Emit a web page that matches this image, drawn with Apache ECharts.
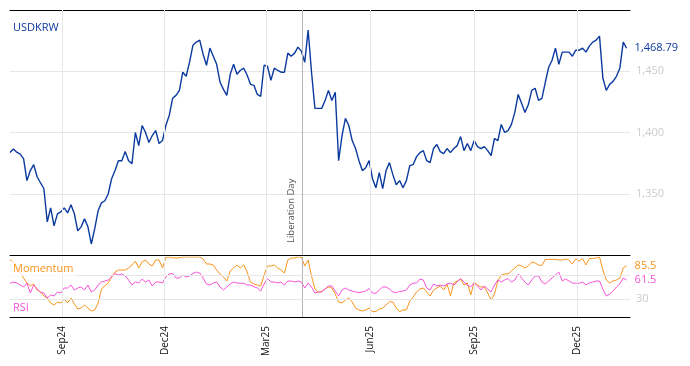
<!DOCTYPE html>
<html><head><meta charset="utf-8">
<script src="https://cdn.jsdelivr.net/npm/echarts@6/dist/echarts.min.js"></script>
<style>html,body{margin:0;padding:0;background:#fff}#c{width:690px;height:366px}</style>
</head><body><div id="c"></div>
<script>
// ---- data ----
const startDate = '2024-07-17';
const stepDays = 3;
const axisMin = '2024-07-17';
const axisMax = '2026-01-17';
const tickDates = ['2024-09-01','2024-12-01','2025-03-01','2025-06-01','2025-09-01','2025-12-01'];
const tickLabels = ['Sep24','Dec24','Mar25','Jun25','Sep25','Dec25'];
const eventDate = '2025-04-02';
const eventLabel = 'Liberation Day';
const seriesNames = ['USDKRW','Momentum','RSI'];
const lastLabels = ['1,468.79','85.5','61.5'];
const rsiLevels = [30, 70];

const usdkrw = [1383.6,1386.5,1383.9,1382.4,1378.7,1360.7,1368.9,1373.8,1363.9,1359,
1354.1,1327,1338.5,1323.8,1333.6,1335.2,1338.5,1334.4,1341,1333.6,
1319.7,1323,1329.5,1323,1309,1321.3,1336.1,1342.6,1344.3,1350,
1362.3,1368.9,1377,1377,1384.4,1377,1374.6,1400,1389.3,1405.7,
1400,1391.8,1397.5,1401.6,1391,1393.4,1405.7,1413.9,1427.9,1430.3,
1434.4,1449.2,1445.9,1457.4,1471.3,1473.8,1475.4,1463.9,1454.9,1468.9,
1462.3,1455.7,1441,1435.2,1430.3,1447.5,1455.7,1447.5,1450.8,1452.5,
1446.7,1439.3,1438.5,1431.1,1429.5,1454.9,1454.1,1442.6,1452.5,1450.8,
1449.2,1449.2,1464.8,1462.3,1464.8,1469.7,1466.4,1457.4,1483.6,1449.2,
1419.7,1419.7,1419.7,1426.2,1434.4,1426.2,1432.8,1377,1397.5,1411.5,
1405.7,1393.4,1386.9,1377,1368.9,1371.3,1377,1362.3,1354.9,1367.2,
1354.1,1368.9,1375.4,1365.6,1357.4,1360.7,1354.9,1360.7,1373,1373.8,
1380.3,1383.6,1385.2,1377,1375.4,1386.9,1390.2,1384.4,1382.8,1386.9,
1383.6,1386.9,1389.3,1396.7,1385.2,1391,1385.2,1393.4,1388.5,1386.9,
1388.5,1385.2,1381.1,1395.1,1393.4,1406.6,1400,1401.6,1406.6,1416.4,
1431.1,1423.8,1416.4,1422.9,1434.4,1436.1,1426.2,1427.9,1441,1453.3,
1459,1468.9,1455.7,1465.6,1465.6,1465.6,1462.3,1467.2,1467.2,1468.9,
1465.6,1470.5,1473.8,1475.4,1478.7,1444.3,1434.4,1439.3,1441.8,1445.9,
1452.5,1473.8,1468.79];

const momentum = [95,91.7,85,75,65,56.7,52,55,45,41.7,
35,31.7,23.3,20,25,23.3,30,23.3,31.7,21.7,
13.3,15,20,15,10,11.7,23.3,46.7,51.7,56.7,
66.7,75,78.3,78.3,78.3,81.7,86.7,93.3,81.7,91.7,
95,88.3,85,95,95,81.7,99,100,99,98,
99,100,100,100,100,100,100,96.7,88.3,88.3,
86.7,78.3,71.7,66.7,60,76.7,81.7,86.7,81.7,86.7,
75,58.3,55,53.3,51.7,70,85,85,86.7,81.7,
78.3,73.3,95,98.3,98.3,100,100,85,95,68.3,
46.7,41.7,41.7,46.7,50,48.3,38.3,25,23.3,28.3,
31.7,25,15,11.7,10,11.7,15,8.8,9.2,13.3,
15,20,25.5,25,15,8.8,11.7,11.7,26.7,33.3,
41.7,46.7,48.3,41.7,35,45,48.3,51.7,45,55,
35,56.7,60,63.3,53.3,56.7,36.7,58.3,53.3,50,
50,40,28.3,38.3,60,70,71.7,71.7,76.7,81.7,
86.7,85,81.7,85,91.7,90,86.7,85.8,95.8,96,
96,96,95,95,96.7,95,88.3,96.7,93.3,97.5,
86.7,97.5,97.5,98.3,100,78.3,61.7,56.7,60,61.7,
65,81.7,85.5];

const rsi = [56.2,58.3,56.7,53.3,50,56.7,40,53.3,46.7,41.7,
40,31.7,36.7,35,41.7,40,48.3,48.3,53.3,45,
48.3,50,45,53.3,41.7,45,53.3,58.3,60,61.7,
66.7,72.5,70,71.7,68.3,61.7,53.3,58.3,56.7,63.3,
58.3,61.7,51.7,58.3,58.3,56.7,66.7,71.7,72.5,65,
65,70,66.7,68.3,72.5,75,73.3,65,55,53.3,
56.7,58.3,50,45,50,55,58.3,56.7,56.2,56.2,
53.3,53.3,50.5,48.3,43.3,55,64.2,58.3,58.3,56.7,
58.3,53.3,60,60,58.3,60,58.3,48.3,56.7,50,
40,41.7,42.2,46.7,51.7,51.7,43.3,35,45,48.3,
45,43.3,41.7,40.8,41.7,43.3,47.5,40,39.5,45,
50,50,46.7,41.7,40.8,42.5,43.3,45,53.3,56.2,
56.7,63.3,61.7,48.3,45,55,51.7,53.3,51.7,55,
56.7,53.3,58.3,64.2,58.3,53.3,50,56.7,51.7,45,
51.7,46.7,41.7,53.3,61.7,58.3,61.7,64.2,58.3,61.7,
71.7,65,58.3,53.3,61.7,68.3,68.3,58.3,55,60,
65,70,75,60,63.3,60,56.7,56.2,56.2,58.3,
53.3,56.7,58.3,60,60,46.7,35,38.3,43.3,50,
55,65,61.5];

// ---- build ----
const FONT = 'Open Sans';
const BLUE = '#0b3a9f', ORANGE = '#f7941d', PINK = '#f752d8', GRID = '#e6e6e6';
function ts(s){ const p = s.split('-').map(Number); return Date.UTC(p[0], p[1]-1, p[2]); }
const t0 = ts(startDate);
const dates = usdkrw.map((_, i) => t0 + i * stepDays * 86400000);
const pair = arr => arr.map((v, i) => [dates[i], v]);
const tickTs = tickDates.map(ts);

function xAxisFor(gridIndex, withLabels) {
  return {
    type: 'value', gridIndex, min: ts(axisMin), max: ts(axisMax),
    axisLine: { show: true, onZero: false, lineStyle: { color: '#000', width: 1 } },
    axisTick: { show: true, inside: true, length: 5, lineStyle: { color: '#000' }, customValues: tickTs },
    axisLabel: {
      show: withLabels, customValues: tickTs, rotate: 90, margin: 9,
      color: '#111', fontSize: 10, fontFamily: FONT,
      formatter: v => { const k = tickTs.indexOf(+v); return k >= 0 ? tickLabels[k] : ''; }
    },
    splitLine: { show: false }
  };
}

const vLines = (withEvent) => {
  const d = tickTs.map(t => ({ xAxis: t, lineStyle: { color: GRID, width: 1, type: 'solid' }, label: { show: false } }));
  d.push({
    xAxis: ts(eventDate), lineStyle: { color: '#b4b4b4', width: 1, type: 'solid' },
    label: withEvent ? {
      show: true, formatter: eventLabel, position: 'insideStartTop', distance: [12, 6],
      color: '#555', fontSize: 9.5, fontFamily: FONT
    } : { show: false }
  });
  return d;
};

const option = {
  animation: false,
  textStyle: { fontFamily: FONT },
  title: [
    { text: seriesNames[0], left: 10, top: 19, padding: [3, 3], backgroundColor: '#fff',
      textStyle: { fontSize: 11, fontWeight: 'normal', color: BLUE, fontFamily: FONT } },
    { text: seriesNames[1], left: 10, top: 261, padding: [2, 3], backgroundColor: 'rgba(255,255,255,0.7)',
      textStyle: { fontSize: 11, fontWeight: 'normal', color: ORANGE, fontFamily: FONT } },
    { text: seriesNames[2], left: 10, top: 300, padding: [2, 3], backgroundColor: 'rgba(255,255,255,0.7)',
      textStyle: { fontSize: 11, fontWeight: 'normal', color: PINK, fontFamily: FONT } }
  ],
  grid: [
    { left: 10, right: 60, top: 10, height: 245 },
    { left: 10, right: 60, top: 257, height: 60 }
  ],
  xAxis: [
    xAxisFor(0, false),
    xAxisFor(1, true),
    { type: 'value', gridIndex: 0, position: 'top', min: ts(axisMin), max: ts(axisMax),
      axisLine: { show: true, onZero: false, lineStyle: { color: '#000', width: 1 } },
      axisTick: { show: false }, axisLabel: { show: false }, splitLine: { show: false } }
  ],
  yAxis: [
    { type: 'value', gridIndex: 0, position: 'right', min: 1300, max: 1500, interval: 50,
      axisLine: { show: false }, axisTick: { show: false },
      axisLabel: { color: '#cccccc', fontSize: 11, fontFamily: FONT, margin: 6,
        formatter: v => (v === 1300 || v === 1500) ? '' : v.toLocaleString('en-US') },
      splitLine: { lineStyle: { color: GRID, width: 1 } } },
    { type: 'value', gridIndex: 1, position: 'right', min: 0, max: 100, interval: 10,
      axisLine: { show: false }, axisTick: { show: false },
      axisLabel: { color: '#cccccc', fontSize: 11, fontFamily: FONT, margin: 6,
        formatter: v => v === rsiLevels[0] ? String(v) : '' },
      splitLine: { show: false } }
  ],
  series: [
    { type: 'line', name: 'grid-top', xAxisIndex: 0, yAxisIndex: 0, z: 1, silent: true,
      data: pair(usdkrw), showSymbol: false, lineStyle: { opacity: 0 },
      markLine: { silent: true, symbol: 'none', animation: false, data: vLines(true) } },
    { type: 'line', name: 'grid-bottom', xAxisIndex: 1, yAxisIndex: 1, z: 1, silent: true,
      data: pair(rsi), showSymbol: false, lineStyle: { opacity: 0 },
      markLine: { silent: true, symbol: 'none', animation: false,
        data: vLines(false).concat(rsiLevels.map(l => ({ yAxis: l, lineStyle: { color: GRID, width: 1, type: 'solid' }, label: { show: false } }))) } },
    { type: 'line', name: seriesNames[0], xAxisIndex: 0, yAxisIndex: 0, z: 3,
      data: pair(usdkrw), showSymbol: false, symbol: 'none',
      lineStyle: { color: BLUE, width: 1.4 },
      endLabel: { show: true, formatter: lastLabels[0], color: BLUE, fontSize: 11, fontFamily: FONT, distance: 8 } },
    { type: 'line', name: seriesNames[1], xAxisIndex: 1, yAxisIndex: 1, z: 3,
      data: pair(momentum), showSymbol: false, symbol: 'none',
      lineStyle: { color: ORANGE, width: 1 },
      endLabel: { show: true, formatter: lastLabels[1], color: ORANGE, fontSize: 11, fontFamily: FONT, distance: 8 } },
    { type: 'line', name: seriesNames[2], xAxisIndex: 1, yAxisIndex: 1, z: 3,
      data: pair(rsi), showSymbol: false, symbol: 'none',
      lineStyle: { color: PINK, width: 1 },
      endLabel: { show: true, formatter: lastLabels[2], color: PINK, fontSize: 11, fontFamily: FONT, distance: 8 } }
  ]
};
const chart = echarts.init(document.getElementById('c'), null, { renderer: 'canvas' });
chart.setOption(option);
</script></body></html>
